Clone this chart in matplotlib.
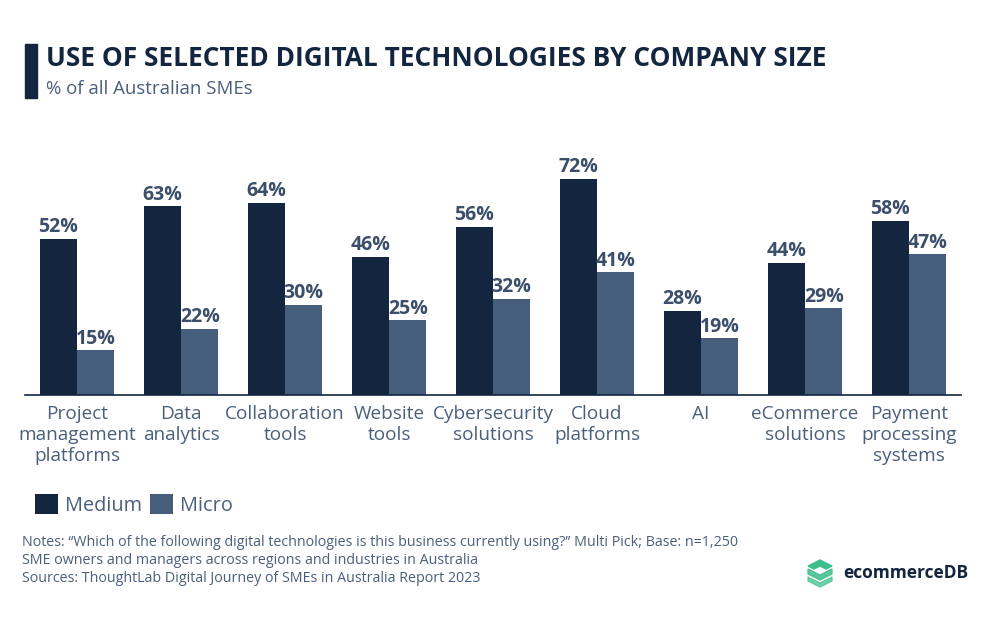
import matplotlib.pyplot as plt
import numpy as np
from matplotlib.patches import Rectangle, Polygon

plt.rcParams['font.family'] = ['Open Sans', 'DejaVu Sans']

categories = ["Project\nmanagement\nplatforms", "Data\nanalytics", "Collaboration\ntools",
              "Website\ntools", "Cybersecurity\nsolutions", "Cloud\nplatforms", "AI",
              "eCommerce\nsolutions", "Payment\nprocessing\nsystems"]
medium = [52, 63, 64, 46, 56, 72, 28, 44, 58]
micro = [15, 22, 30, 25, 32, 41, 19, 29, 47]

dark = "#14263f"
mid = "#465e7c"
txt = "#4a5f7c"

fig = plt.figure(figsize=(9.88, 6.24), dpi=100)
ax = fig.add_axes([25/988, (624-395)/624, 936/988, 240/624])

x = np.arange(len(categories))
w = 0.36
b1 = ax.bar(x - w/2, medium, w, color=dark, label="Medium")
b2 = ax.bar(x + w/2, micro, w, color=mid, label="Micro")

for bars, vals in ((b1, medium), (b2, micro)):
    for r, v in zip(bars, vals):
        ax.text(r.get_x() + r.get_width()/2, v + 0.5, f"{v}%", ha='center', va='bottom',
                fontsize=14, fontweight='bold', color="#3b4f6b")

ax.set_xlim(-0.5, 8.5)
ax.set_ylim(0, 80)
ax.set_yticks([])
ax.set_xticks(x)
ax.set_xticklabels(categories, fontsize=13.7, color=txt, linespacing=1.22)
ax.tick_params(axis='x', length=0, pad=7)
for s in ['top', 'right', 'left']:
    ax.spines[s].set_visible(False)
ax.spines['bottom'].set_color(dark)
ax.spines['bottom'].set_linewidth(1.2)

# title block
fig.patches.append(Rectangle((25/988, 1 - 98/624), 12/988, 54/624, transform=fig.transFigure,
                             color=dark, zorder=5))
fig.text(46/988, 1 - 58/624, "USE OF SELECTED DIGITAL TECHNOLOGIES BY COMPANY SIZE",
         fontsize=18.9, fontweight='bold', color=dark, va='center')
fig.text(46/988, 1 - 89/624, "% of all Australian SMEs", fontsize=13.4, color=txt, va='center')

leg = fig.legend(handles=[b1, b2], loc='center left', bbox_to_anchor=(35/988, 1 - 505/624),
                 ncol=2, frameon=False, fontsize=14.3, handlelength=1.15, handleheight=1.15,
                 handletextpad=0.35, columnspacing=0.4, labelcolor=txt,
                 borderpad=0, borderaxespad=0)

notes = ("Notes: \u201cWhich of the following digital technologies is this business currently using?\u201d Multi Pick; Base: n=1,250\n"
         "SME owners and managers across regions and industries in Australia\n"
         "Sources: ThoughtLab Digital Journey of SMEs in Australia Report 2023")
fig.text(22/988, 1 - 535/624, notes, fontsize=10.25, color=txt, va='top', linespacing=1.25)

# logo
green = "#3dbe8b"
def fy(py):
    return 1 - py/624
def fx(px):
    return px/988
fig.patches.append(Polygon([(fx(808), fy(566)), (fx(820), fy(560)), (fx(832), fy(566)),
                            (fx(826), fy(569)), (fx(820), fy(566)), (fx(814), fy(569))],
                           closed=True, transform=fig.transFigure, color=green))
fig.patches.append(Polygon([(fx(808), fy(569)), (fx(820), fy(575)), (fx(832), fy(569)),
                            (fx(832), fy(574)), (fx(820), fy(580)), (fx(808), fy(574))],
                           closed=True, transform=fig.transFigure, color=green, alpha=0.85))
fig.patches.append(Polygon([(fx(808), fy(577)), (fx(820), fy(583)), (fx(832), fy(577)),
                            (fx(832), fy(581)), (fx(820), fy(587)), (fx(808), fy(581))],
                           closed=True, transform=fig.transFigure, color=green, alpha=0.7))
fig.text(fx(843), fy(573), "ecommerceDB", fontsize=12.5, fontweight='bold', color=dark, va='center')

fig.savefig("out.png", dpi=100)
